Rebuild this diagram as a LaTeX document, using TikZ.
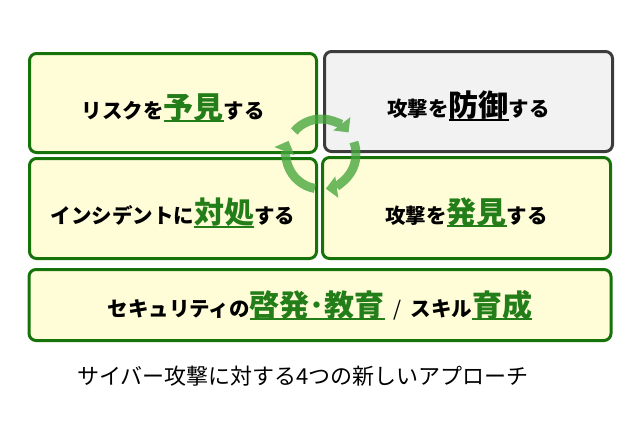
\documentclass[tikz,border=0pt]{standalone}
\usepackage{fontspec}
\setmainfont{Noto Sans CJK JP}
\usetikzlibrary{arrows.meta}
\definecolor{boxfill}{RGB}{255,253,216}
\definecolor{boxline}{RGB}{22,115,10}
\definecolor{grayfill}{RGB}{242,242,242}
\definecolor{grayline}{RGB}{60,60,60}
\definecolor{kwgreen}{RGB}{35,125,25}
\definecolor{cyc}{RGB}{70,165,60}
\newcommand\keyw[2][kwgreen]{{\fontsize{30}{32}\selectfont\color{#1}\setbox0\hbox{#2}\rlap{\rule[-4pt]{\wd0}{1.8pt}}\box0}}
\begin{document}
\begin{tikzpicture}[x=1pt,y=-1pt,
  box/.style={draw=boxline, fill=boxfill, line width=3pt, rounded corners=7pt,
    inner sep=0pt, font=\bfseries\fontsize{20.5}{22}\selectfont},
  quad/.style={box, text height=34pt, text depth=4pt},
  graybox/.style={quad, draw=grayline, fill=grayfill},
  cycarrow/.style={draw=cyc, line width=9pt, -{Triangle[width=21pt,length=11pt]}},
  caption/.style={anchor=west, inner sep=0pt, font=\fontsize{22}{24}\selectfont}]
\useasboundingbox (0,0) rectangle (640,426);
\node[quad, minimum width=287pt, minimum height=99pt] (risk) at (173,103)
  {リスクを\keyw{予見}する};
\node[graybox, minimum width=288pt, minimum height=100pt] (defend) at (468.5,101.5)
  {攻撃を\keyw[black]{防御}する};
\node[quad, minimum width=287pt, minimum height=100pt] (respond) at (173,208.5)
  {インシデントに\keyw{対処}する};
\node[quad, minimum width=288pt, minimum height=101pt] (detect) at (466.5,208)
  {攻撃を\keyw{発見}する};
\node[box, minimum width=582pt, minimum height=71pt] (educate) at (320,305)
  {セキュリティの\keyw{啓発･教育}\hspace{9pt}{\mdseries /}\hspace{9pt}スキル\keyw{育成}};
\node[caption] (cap) at (77,376) {サイバー攻撃に対する4つの新しいアプローチ};
\coordinate (c) at (321,154);
\begin{scope}[transparency group, opacity=0.78]
\draw[cycarrow] ([shift={(-140:35)}]c) arc[start angle=-140, end angle=-38, radius=35];
\draw[cycarrow] ([shift={(-20:35)}]c) arc[start angle=-20, end angle=82, radius=35];
\draw[cycarrow] ([shift={(100:35)}]c) arc[start angle=100, end angle=202, radius=35];
\end{scope}
\end{tikzpicture}
\end{document}
